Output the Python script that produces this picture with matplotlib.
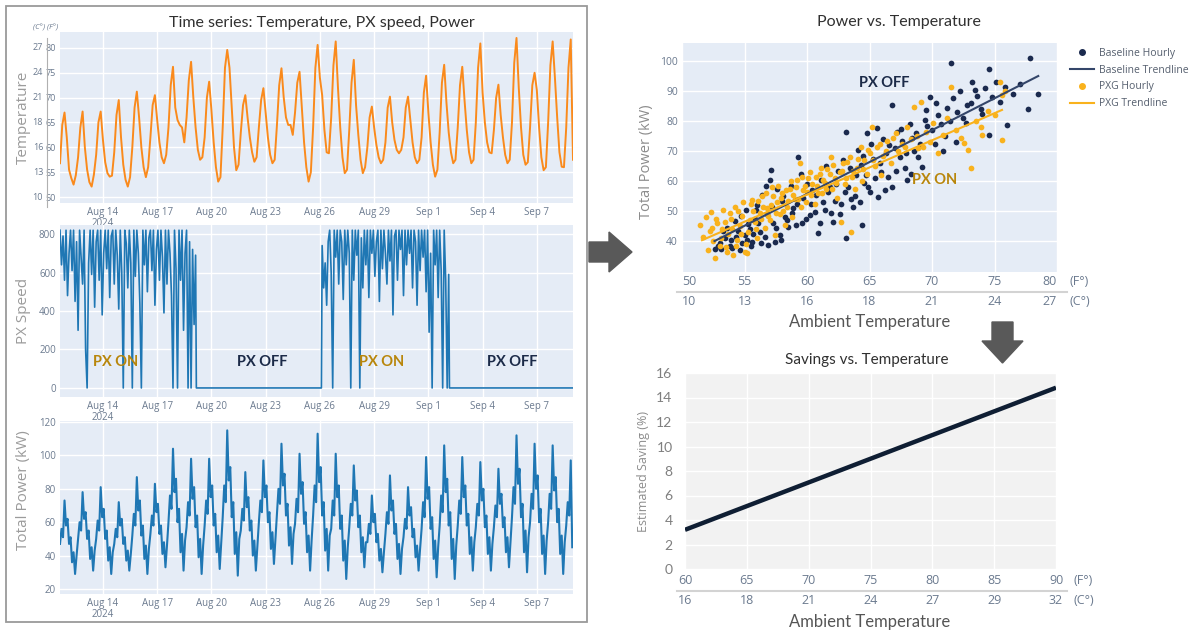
import matplotlib
matplotlib.use("Agg")
import matplotlib.pyplot as plt
import pandas as pd
from matplotlib.patches import Polygon, Rectangle
from matplotlib.lines import Line2D
from matplotlib.transforms import blended_transform_factory as blend

W, H = 1197, 633
SANS = ["Open Sans", "DejaVu Sans"]
TITLE = ["Lato", "DejaVu Sans"]
TICK = "#6b7a8f"
BG = "#E5ECF6"
NAVY = "#1b2a4e"
GOLD = "#f9b21d"
ON_C = "#b8860b"
OFF_C = "#1b2a48"

# ---- time series (3-hourly temperature, 2-hourly power) ----
T_START = "2024-08-11 15:00"
X_END = "2024-09-09 00:00"
temp_f = [
    56.8, 64.5, 67.0, 62.0, 55.5, 53.8, 52.5, 54.4,
    58.0, 64.0, 67.2, 60.0, 55.5, 53.0, 52.1, 54.5,
    58.5, 65.0, 67.2, 61.5, 57.0, 54.8, 54.1, 54.3,
    59.0, 66.5, 69.5, 62.0, 56.5, 53.5, 52.1, 54.0,
    60.0, 68.0, 71.2, 66.0, 60.0, 56.0, 54.0, 56.0,
    62.0, 68.5, 70.5, 65.5, 61.0, 58.0, 56.8, 58.5,
    64.0, 72.5, 76.2, 68.0, 65.5, 64.5, 64.0, 61.0,
    66.0, 73.5, 77.2, 70.0, 64.0, 59.5, 57.5, 58.0,
    62.0, 70.0, 73.2, 67.5, 61.0, 56.0, 53.1, 54.0,
    64.0, 76.0, 79.6, 76.0, 68.0, 60.0, 55.4, 56.5,
    63.0, 68.5, 70.5, 66.0, 62.0, 59.0, 57.1, 58.0,
    64.0, 69.5, 71.9, 67.0, 62.0, 58.5, 56.8, 57.5,
    64.5, 72.5, 75.9, 70.0, 66.0, 64.5, 64.5, 62.5,
    67.0, 73.0, 75.2, 68.0, 61.0, 56.0, 53.1, 55.0,
    64.0, 76.0, 80.6, 74.0, 70.5, 63.5, 59.0, 58.8,
    66.0, 76.5, 81.3, 72.0, 64.0, 58.0, 54.8, 55.5,
    63.5, 73.0, 77.6, 68.5, 62.5, 57.5, 54.8, 56.0,
    60.0, 66.0, 68.2, 64.0, 60.5, 58.0, 56.8, 57.5,
    61.0, 68.0, 70.2, 65.0, 61.5, 59.5, 58.8, 59.5,
    62.0, 68.0, 70.2, 65.5, 61.0, 58.0, 56.8, 57.5,
    62.0, 71.0, 74.4, 67.0, 61.0, 56.5, 54.1, 55.5,
    63.0, 73.0, 76.6, 69.0, 63.0, 59.0, 56.8, 57.5,
    64.0, 72.5, 76.2, 69.5, 63.5, 59.0, 56.8, 57.5,
    65.0, 76.0, 80.9, 71.0, 65.0, 61.0, 59.0, 58.8,
    63.5, 70.0, 72.6, 66.5, 62.0, 58.5, 56.8, 57.5,
    65.0, 77.0, 82.0, 72.0, 64.0, 58.5, 56.5, 57.0,
    64.0, 72.5, 75.0, 71.5, 64.0, 58.0, 55.4, 56.0,
    65.0, 76.5, 81.3, 74.0, 66.0, 59.0, 56.1, 56.0,
    64.0, 76.0, 81.7, 57.5,
]
power_kw = [
    47, 56, 51, 73, 58, 62, 47, 51, 36, 42, 29, 40,
    50, 60, 55, 78, 62, 66, 50, 55, 38, 45, 31, 43,
    50, 61, 55, 81, 63, 68, 50, 55, 37, 45, 29, 42,
    47, 56, 51, 72, 58, 62, 47, 51, 37, 43, 31, 41,
    52, 65, 58, 87, 67, 73, 52, 58, 38, 46, 29, 44,
    53, 64, 58, 83, 66, 71, 53, 58, 41, 48, 33, 46,
    60, 76, 68, 104, 78, 86, 60, 68, 42, 53, 31, 49,
    57, 72, 64, 98, 74, 81, 57, 64, 39, 50, 29, 46,
    58, 73, 65, 98, 75, 82, 58, 65, 42, 52, 32, 48,
    63, 82, 72, 115, 85, 93, 63, 72, 41, 54, 28, 50,
    55, 68, 61, 90, 69, 75, 55, 61, 40, 49, 31, 46,
    60, 73, 66, 97, 75, 82, 60, 66, 44, 54, 35, 50,
    64, 80, 71, 107, 82, 89, 64, 71, 46, 57, 35, 53,
    59, 74, 66, 101, 77, 84, 59, 66, 42, 52, 31, 49,
    64, 82, 72, 113, 84, 93, 64, 72, 43, 56, 31, 52,
    56, 73, 64, 101, 75, 82, 56, 64, 37, 49, 26, 45,
    57, 71, 64, 94, 73, 79, 57, 64, 42, 51, 33, 48,
    48, 59, 53, 76, 60, 65, 48, 53, 37, 44, 30, 42,
    53, 66, 59, 88, 67, 73, 53, 59, 38, 47, 29, 44,
    51, 62, 56, 81, 64, 69, 51, 56, 39, 46, 31, 44,
    56, 72, 63, 99, 74, 81, 56, 63, 38, 49, 27, 45,
    58, 76, 66, 106, 78, 86, 58, 66, 38, 50, 26, 46,
    58, 73, 65, 99, 75, 82, 58, 65, 41, 51, 31, 48,
    57, 71, 64, 96, 73, 80, 57, 64, 41, 51, 31, 47,
    57, 70, 63, 92, 71, 77, 57, 63, 42, 51, 33, 48,
    63, 81, 71, 112, 83, 92, 63, 71, 42, 55, 30, 51,
    60, 77, 68, 107, 80, 88, 60, 68, 41, 52, 29, 49,
    60, 77, 68, 106, 79, 87, 60, 68, 41, 52, 29, 48,
    58, 72, 64, 97, 45,
]

# ---- PX speed: two ON periods (2-hourly), OFF periods flat at 0 ----
px_on1_start = "2024-08-11 15:00"
px_on1 = [
    820, 640, 790, 560, 820, 480, 700, 820, 610, 820, 450, 760,
    300, 820, 680, 540, 820, 200, 0, 650, 820, 590, 820, 420,
    760, 820, 560, 820, 380, 700, 820, 620, 820, 470, 790, 820,
    540, 820, 690, 410, 820, 600, 0, 820, 750, 520, 820, 650,
    0, 820, 580, 820, 700, 440, 0, 820, 640, 820, 500, 780,
    820, 610, 820, 430, 720, 820, 560, 820, 680, 390, 820, 540,
    820, 700, 480, 0, 820, 620, 0, 820, 560, 820, 300, 700,
    820, 0, 760, 0, 720, 330, 690,
]
px_off1 = ["2024-08-19 04:00", "2024-08-26 02:00"]
px_on2_start = "2024-08-26 03:00"
px_on2 = [
    740, 520, 650, 430, 760, 820, 600, 0,
    820, 680, 820, 540, 820, 760, 460, 820, 640, 820, 700, 0,
    820, 560, 820, 690, 820, 0, 780, 520, 820, 640, 820, 470,
    820, 700, 820, 580, 760, 820, 450, 820, 620, 820, 700, 540,
    820, 660, 820, 380, 790, 820, 560, 820, 720, 820, 480, 820,
    640, 820, 700, 820, 520, 820, 760, 430, 820, 610, 820, 680,
    820, 500, 820, 290, 700, 0, 820, 640, 820, 470, 820, 610,
    0, 820, 560, 0, 590,
]
px_off2 = ["2024-09-02 04:00", "2024-09-09 00:00"]

date_ticks = ["2024-08-14", "2024-08-17", "2024-08-20", "2024-08-23", "2024-08-26",
              "2024-08-29", "2024-09-01", "2024-09-04", "2024-09-07"]
date_labels = ["Aug 14\n2024", "Aug 17", "Aug 20", "Aug 23", "Aug 26",
               "Aug 29", "Sep 1", "Sep 4", "Sep 7"]
temp_ticks_f = [50, 55, 60, 65, 70, 75, 80]
temp_ticks_c = [10, 13, 16, 18, 21, 24, 27]

# ---- scatter: power vs ambient temperature (F) ----
base_f = [52.6, 52.9, 53.1, 53.4, 53.6, 53.9, 54.0, 54.2, 54.5, 54.7, 54.8, 55.0, 55.1, 55.3,
          55.5, 55.6, 55.8, 56.0, 56.2, 56.4, 56.6, 56.8, 56.9, 57.0, 57.1, 57.3, 57.4, 57.6,
          57.8, 58.0, 58.2, 58.5, 58.7, 58.9, 59.1, 59.3, 59.5, 59.7, 59.9, 60.2, 60.4, 60.6,
          60.9, 61.1, 61.3, 61.5, 61.7, 61.9, 62.1, 62.3, 62.5, 62.7, 62.9, 63.1, 63.1, 63.3,
          63.5, 63.7, 63.9, 64.1, 64.3, 64.4, 64.6, 64.8, 64.9, 65.1, 65.3, 65.6, 65.7, 65.9,
          66.1, 66.3, 66.5, 66.8, 66.8, 67.0, 67.2, 67.4, 67.6, 67.8, 68.0, 68.2, 68.4, 68.6,
          68.9, 69.2, 69.4, 69.5, 69.8, 70.0, 70.2, 70.5, 70.9, 71.2, 71.5, 71.7, 71.9, 72.2,
          72.5, 72.8, 73.1, 73.2, 73.6, 74.0, 74.2, 74.6, 74.6, 75.1, 75.4, 76.0, 76.5, 77.0,
          77.7, 77.8, 78.5,
          53.0, 53.3, 53.8, 54.3, 54.6, 55.2, 55.4, 55.7, 55.9, 56.1, 56.3, 56.7, 57.2, 57.5,
          57.9, 58.1, 58.4, 58.8, 59.2, 59.6, 60.0, 60.3, 60.7, 61.0, 61.4, 61.8, 62.2, 62.6,
          63.0, 63.4, 63.8, 64.2, 64.5, 64.7, 65.0, 65.4, 65.8, 66.2, 66.6, 67.1, 67.5, 67.9,
          68.3, 68.7, 69.0, 69.6, 70.3, 70.7, 71.0, 71.4, 72.0, 72.7, 73.4, 73.9, 74.8, 75.8]
base_kw = [37.5, 38.5, 37.3, 41.0, 44.5, 40.2, 37.7, 46.8, 43.2, 48.5, 39.5, 42.0, 50.5, 45.6,
           38.4, 39.7, 47.5, 52.0, 43.0, 55.5, 41.2, 49.0, 38.7, 60.3, 63.7, 46.0, 39.7, 57.5,
           42.0, 53.5, 48.0, 44.7, 58.5, 51.0, 45.5, 68.0, 62.5, 54.5, 47.5, 48.7, 57.0, 49.7,
           42.7, 60.5, 53.0, 65.0, 56.5, 49.3, 46.3, 59.0, 63.5, 52.5, 67.0, 41.0, 76.3, 58.0,
           54.0, 51.3, 62.0, 70.5, 65.5, 45.3, 59.5, 76.0, 58.0, 72.5, 67.5, 77.7, 54.7, 63.0,
           74.0, 69.5, 61.5, 85.3, 58.0, 71.0, 76.5, 68.0, 73.5, 64.5, 60.3, 79.0, 74.5, 70.0,
           68.0, 64.7, 80.5, 83.7, 88.0, 77.0, 72.5, 82.0, 70.0, 84.5, 99.3, 87.7, 73.0, 90.0,
           81.0, 85.5, 86.0, 93.0, 88.5, 82.5, 91.0, 97.3, 75.3, 93.0, 86.5, 78.7, 89.0, 92.5,
           84.0, 101.0, 89.0,
           39.5, 43.5, 38.5, 41.5, 37.0, 40.5, 44.0, 42.5, 50.5, 46.0, 39.5, 58.5, 51.5, 44.5,
           40.5, 55.0, 47.0, 49.5, 52.5, 46.0, 59.0, 52.5, 55.5, 46.0, 50.5, 58.0, 53.5, 49.0,
           56.5, 64.5, 55.0, 53.0, 68.5, 62.0, 56.5, 61.0, 66.0, 57.0, 72.0, 63.5, 77.5, 69.5,
           62.5, 76.0, 72.5, 78.5, 86.0, 79.0, 75.0, 80.0, 83.0, 79.5, 90.5, 84.0, 88.0, 91.5]
pxg_f = [51.4, 51.7, 51.9, 52.1, 52.2, 52.3, 52.5, 52.6, 52.8, 53.0, 53.2, 53.3, 53.5, 53.7,
         53.9, 54.1, 54.2, 54.4, 54.6, 54.8, 55.0, 55.2, 55.3, 55.5, 55.6, 55.8, 56.0, 56.2,
         56.4, 56.6, 56.8, 57.0, 57.2, 57.4, 57.6, 57.8, 58.0, 58.2, 58.4, 58.6, 58.8, 59.0,
         59.2, 59.4, 59.5, 59.7, 59.9, 60.1, 60.3, 60.6, 60.8, 61.0, 61.2, 61.4, 61.6, 61.9,
         62.0, 62.2, 62.4, 62.7, 62.8, 63.0, 63.2, 63.5, 63.6, 63.8, 64.0, 64.3, 64.4, 64.6,
         64.8, 65.0, 65.2, 65.4, 65.6, 65.9, 66.1, 66.4, 66.7, 67.1, 67.3, 67.6, 68.0, 68.3,
         68.6, 68.9, 69.1, 69.5, 69.8, 70.1, 70.5, 70.9, 71.2, 71.5, 71.9, 72.3, 72.6, 72.9,
         73.1, 73.5, 73.9, 74.0, 74.5, 75.0, 75.4, 75.6, 75.6, 75.8,
         52.4, 52.7, 53.1, 53.4, 53.6, 53.8, 54.0, 54.3, 54.5, 54.7, 54.9, 55.1, 55.4, 55.7,
         55.9, 56.1, 56.3, 56.5, 56.7, 56.9, 57.1, 57.3, 57.5, 57.7, 57.9, 58.1, 58.3, 58.5,
         58.7, 58.9, 59.1, 59.3, 59.6, 59.8, 60.0, 60.2, 60.4, 60.7, 60.9, 61.1, 61.3, 61.5,
         61.8, 62.1, 62.3, 62.6, 62.9, 63.1, 63.4, 63.7, 64.1, 64.5, 64.9, 65.3, 65.8, 66.3,
         66.9, 67.8, 68.8, 69.3]
pxg_kw = [45.5, 41.5, 48.0, 37.0, 43.5, 49.7, 40.0, 34.3, 46.0, 38.5, 44.0, 50.5, 38.0, 42.5,
          47.5, 35.3, 51.5, 40.5, 45.0, 48.5, 36.5, 36.0, 43.0, 52.5, 53.7, 46.5, 41.0, 49.5,
          55.0, 44.5, 51.0, 47.0, 58.0, 42.0, 53.0, 49.0, 56.0, 45.5, 51.5, 57.5, 48.0, 54.0,
          60.5, 66.0, 51.3, 57.0, 53.0, 61.0, 55.5, 52.3, 58.5, 62.5, 56.0, 59.5, 64.0, 68.0,
          57.5, 61.0, 54.5, 46.3, 63.5, 59.0, 66.5, 43.0, 61.5, 57.5, 64.5, 71.3, 60.0, 67.0,
          62.5, 69.5, 78.0, 65.0, 71.5, 62.0, 68.5, 73.5, 66.0, 76.0, 70.0, 72.5, 78.0, 74.0,
          84.7, 71.0, 86.3, 76.5, 73.0, 79.5, 69.3, 75.5, 81.0, 91.3, 77.0, 74.5, 72.7, 70.3,
          64.3, 80.0, 78.0, 75.3, 83.5, 82.0, 93.0, 88.7, 73.7, 90.0,
          44.5, 47.5, 41.0, 46.5, 36.5, 49.5, 44.0, 38.5, 50.0, 42.5, 53.0, 39.0, 47.0, 50.0,
          44.0, 53.5, 47.5, 51.5, 56.0, 48.5, 52.0, 55.0, 49.5, 58.5, 54.5, 50.0, 57.0, 53.5,
          60.0, 55.5, 58.0, 54.0, 61.5, 58.5, 56.5, 63.0, 59.0, 61.5, 56.0, 64.5, 60.5, 57.5,
          62.5, 65.5, 59.5, 63.0, 66.0, 61.0, 68.0, 63.5, 67.5, 64.0, 70.5, 67.0, 72.5, 70.0,
          74.5, 71.5, 75.0, 71.5]
base_trend_f = [52.6, 78.5]
base_trend_kw = [40.0, 95.0]
pxg_trend_f = [51.6, 75.6]
pxg_trend_kw = [40.3, 83.7]
scat_ticks_f = [50, 55, 60, 65, 70, 75, 80]
scat_ticks_c = [10, 13, 16, 18, 21, 24, 27]

# ---- savings vs temperature ----
save_f = [60, 90]
save_pct = [3.2, 14.8]
save_ticks_f = [60, 65, 70, 75, 80, 85, 90]
save_ticks_c = [16, 18, 21, 24, 27, 29, 32]


def fx(x):
    return x / W


def fy(y):
    return 1 - y / H


def box(l, t, r, b):
    return [l / W, 1 - b / H, (r - l) / W, (b - t) / H]


def plotly_look(ax, bg=BG):
    ax.set_facecolor(bg)
    for s in ax.spines.values():
        s.set_visible(False)
    ax.grid(True, color="white", lw=1.0)
    ax.set_axisbelow(True)
    ax.tick_params(length=0, labelsize=7, labelcolor=TICK, pad=3)
    for lab in ax.get_xticklabels() + ax.get_yticklabels():
        lab.set_family(SANS)


fig = plt.figure(figsize=(W / 100, H / 100), dpi=100)

# ---------------- left: time series ----------------
t3 = pd.date_range(T_START, periods=len(temp_f), freq="3h")
t2 = pd.date_range(T_START, periods=len(power_kw), freq="2h")
px_t = (list(pd.date_range(px_on1_start, periods=len(px_on1), freq="2h")) + list(pd.to_datetime(px_off1))
        + list(pd.date_range(px_on2_start, periods=len(px_on2), freq="2h")) + list(pd.to_datetime(px_off2)))
px_v = px_on1 + [0, 0] + px_on2 + [0, 0]
xlim = (pd.Timestamp(T_START), pd.Timestamp(X_END))
dticks = pd.to_datetime(date_ticks)

ax_t = fig.add_axes(box(60, 32, 573, 203))
ax_p = fig.add_axes(box(60, 225, 573, 397))
ax_w = fig.add_axes(box(60, 421, 573, 594))

ax_t.plot(t3, temp_f, color="#fa8a1c", lw=1.4)
ax_p.plot(px_t, px_v, color="#1f77b4", lw=1.2)
ax_w.plot(t2, power_kw, color="#1f77b4", lw=1.5)

for ax in (ax_t, ax_p, ax_w):
    ax.set_xlim(xlim)
    ax.set_xticks(dticks)
    ax.set_xticklabels(date_labels, linespacing=1.0)
    plotly_look(ax)

ax_t.set_ylim(48.8, 83.2)
ax_t.set_yticks(temp_ticks_f)
ax_t.set_yticklabels([str(v) for v in temp_ticks_f], fontsize=6.5)
tr = blend(ax_t.transAxes, ax_t.transData)
for f, c in zip(temp_ticks_f, temp_ticks_c):
    ax_t.text(-0.033, f, str(c), transform=tr, ha="right", va="center",
              fontsize=6.5, color=TICK, family=SANS)
fig.text(fx(46), fy(28), "(C°) (F°)", ha="center", va="center", fontsize=5.5,
         color=TICK, style="italic", family=SANS)
fig.add_artist(Line2D([fx(47), fx(47)], [fy(38), fy(207)], color="#b0b0b0", lw=0.8))

ax_p.set_ylim(-47, 847)
ax_p.set_yticks([0, 200, 400, 600, 800])
ax_w.set_ylim(17, 120.6)
ax_w.set_yticks([20, 40, 60, 80, 100, 120])

for ax, lab, ly in ((ax_t, "Temperature", 0.5), (ax_p, "PX Speed", 0.5), (ax_w, "Total Power (kW)", 0.6)):
    ax.set_ylabel(lab, fontsize=11, color="#9b9b9b", family=SANS)
    ax.yaxis.set_label_coords(-0.056, ly)

for when, txt, col in (("2024-08-14 17:00", "PX ON", ON_C), ("2024-08-22 19:00", "PX OFF", OFF_C),
                       ("2024-08-29 10:00", "PX ON", ON_C), ("2024-09-05 16:00", "PX OFF", OFF_C)):
    ax_p.text(pd.Timestamp(when), 135, txt, ha="center", va="center", fontsize=10.5,
              fontweight="bold", color=col, family=TITLE)

fig.text(fx(322), fy(23), "Time series: Temperature, PX speed, Power", ha="center", va="center",
         fontsize=11.5, color="#303030", family=TITLE)
fig.add_artist(Rectangle((fx(6), fy(622)), fx(581), 616 / H, fill=False, ec="#9a9a9a", lw=1.3,
                         transform=fig.transFigure))


def temp_rows(ax, ticks_f, ticks_c, y_f, y_c, y_sep, x_unit, edge):
    trd = blend(ax.transData, fig.transFigure)
    n = len(ticks_f)
    for i, (f, c) in enumerate(zip(ticks_f, ticks_c)):
        ha = "center"
        if edge and i == 0:
            ha = "left"
        elif edge and i == n - 1:
            ha = "right"
        for val, yy in ((f, y_f), (c, y_c)):
            ax.text(f, fy(yy), str(val), transform=trd, ha=ha, va="center",
                    fontsize=9, color=TICK, family=SANS)
    fig.text(fx(x_unit), fy(y_f), "(F°)", ha="left", va="center", fontsize=9, color=TICK, family=SANS)
    fig.text(fx(x_unit), fy(y_c), "(C°)", ha="left", va="center", fontsize=9, color=TICK, family=SANS)
    fig.add_artist(Line2D([fx(677), fx(1067)], [fy(y_sep), fy(y_sep)], color="#d3d3d3", lw=1.5))


# ---------------- right top: scatter ----------------
ax_s = fig.add_axes(box(682, 43, 1057, 272))
ax_s.scatter(base_f, base_kw, s=17, color=NAVY, lw=0, zorder=2)
ax_s.scatter(pxg_f, pxg_kw, s=17, color=GOLD, lw=0, zorder=3)
ax_s.plot(base_trend_f, base_trend_kw, color="#34466a", lw=1.5, zorder=4)
ax_s.plot(pxg_trend_f, pxg_trend_kw, color=GOLD, lw=1.5, zorder=4)
ax_s.set_xlim(50, 80)
ax_s.set_ylim(29.7, 106)
ax_s.set_xticks(scat_ticks_f)
ax_s.set_yticks([40, 50, 60, 70, 80, 90, 100])
plotly_look(ax_s)
ax_s.tick_params(labelbottom=False, labelsize=7.5)
ax_s.set_ylabel("Total Power (kW)", fontsize=10.5, color="#8c8c8c", family=SANS)
ax_s.yaxis.set_label_coords(-0.075, 0.48)
ax_s.text(66.2, 92.7, "PX OFF", ha="center", va="center", fontsize=10.5, fontweight="bold",
          color=OFF_C, family=TITLE)
ax_s.text(70.2, 60.3, "PX ON", ha="center", va="center", fontsize=10.5, fontweight="bold",
          color=ON_C, family=TITLE)
temp_rows(ax_s, scat_ticks_f, scat_ticks_c, 282, 301, 292, 1070, True)
fig.text(fx(899), fy(22), "Power vs. Temperature", ha="center", va="center", fontsize=11.5,
         color="#303030", family=TITLE)
fig.text(fx(870), fy(322), "Ambient Temperature", ha="center", va="center", fontsize=12,
         color="#555555", family=TITLE)
handles = [
    Line2D([], [], marker="o", ls="none", color=NAVY, ms=4, label="Baseline Hourly"),
    Line2D([], [], color="#34466a", lw=1.5, label="Baseline Trendline"),
    Line2D([], [], marker="o", ls="none", color=GOLD, ms=4, label="PXG Hourly"),
    Line2D([], [], color=GOLD, lw=1.5, label="PXG Trendline"),
]
leg = fig.legend(handles=handles, loc="upper left", bbox_to_anchor=(fx(1070), fy(48)), frameon=False,
                 handlelength=2.3, handletextpad=0.5, labelspacing=0.55,
                 borderaxespad=0, borderpad=0, prop={"family": SANS, "size": 7.5})
for t in leg.get_texts():
    t.set_color("#555f6e")

# ---------------- right bottom: savings ----------------
ax_v = fig.add_axes(box(685, 373, 1056, 569))
ax_v.plot(save_f, save_pct, color="#0f1e33", lw=3.2, solid_capstyle="butt")
ax_v.set_xlim(60, 90)
ax_v.set_ylim(0, 16)
ax_v.set_xticks(save_ticks_f)
ax_v.set_yticks(range(0, 17, 2))
plotly_look(ax_v, bg="#f2f2f2")
ax_v.tick_params(labelbottom=False, labelsize=10, labelcolor="#7f7f7f", pad=9)
for lab in ax_v.get_yticklabels():
    lab.set_family(TITLE)
ax_v.set_ylabel("Estimated Saving (%)", fontsize=9, color="#8c8c8c", family=SANS)
ax_v.yaxis.set_label_coords(-0.094, 0.5)
temp_rows(ax_v, save_ticks_f, save_ticks_c, 581, 601, 591, 1073, False)
fig.text(fx(867), fy(360), "Savings vs. Temperature", ha="center", va="center", fontsize=11,
         color="#303030", family=TITLE)
fig.text(fx(870), fy(622), "Ambient Temperature", ha="center", va="center", fontsize=12,
         color="#555555", family=TITLE)

# ---------------- arrows ----------------
right_arrow = [(589, 242), (609, 242), (609, 232), (632, 252), (609, 272), (609, 262), (589, 262)]
down_arrow = [(992, 322), (1013, 322), (1013, 341), (1023, 341), (1002.5, 363), (982, 341), (992, 341)]
for pts in (right_arrow, down_arrow):
    fig.add_artist(Polygon([(fx(x), fy(y)) for x, y in pts], closed=True, color="#595959",
                           transform=fig.transFigure))

fig.savefig("out.png", dpi=100)
